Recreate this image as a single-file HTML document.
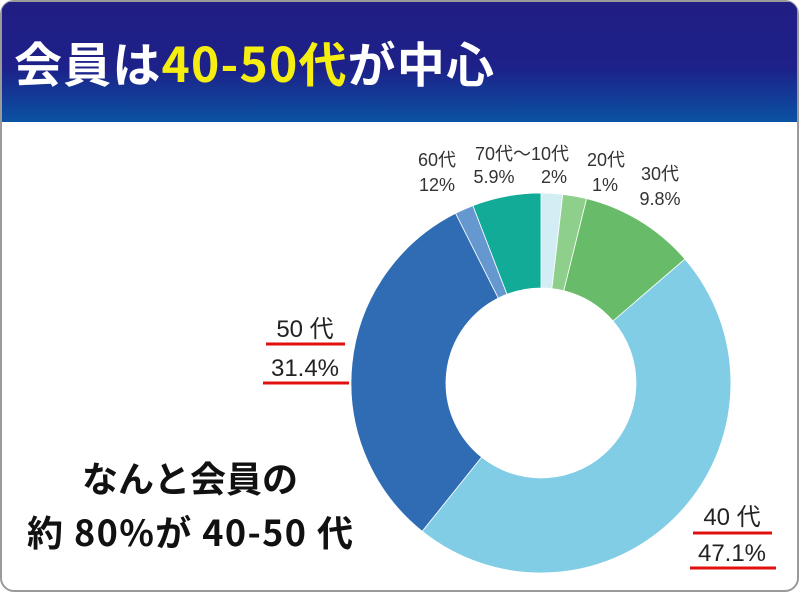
<!DOCTYPE html>
<html><head><meta charset="utf-8"><style>
body{margin:0;width:800px;height:594px;background:#fff;overflow:hidden}
</style></head><body>
<svg width="800" height="594" xmlns="http://www.w3.org/2000/svg" font-family="'Liberation Sans','Noto Sans CJK JP',sans-serif">
<defs><linearGradient id="g" x1="0" y1="0" x2="0" y2="1">
<stop offset="0" stop-color="#211e84"/><stop offset="0.55" stop-color="#1d2189"/><stop offset="1" stop-color="#0a52a2"/></linearGradient>
<clipPath id="c"><rect x="1" y="1" width="797" height="590" rx="13"/></clipPath></defs>
<rect x="1" y="1" width="797" height="590" rx="13" fill="#fff" stroke="#9a9a9a" stroke-width="2"/>
<rect x="2" y="2" width="795" height="120" fill="url(#g)" clip-path="url(#c)"/>
<text x="14" y="82" font-size="48" font-weight="bold" fill="#fff" font-family="'Noto Sans CJK JP',sans-serif" textLength="480" lengthAdjust="spacing">会員は<tspan fill="#f5ee10">40-50代</tspan>が中心</text>
<g stroke="#fff" stroke-width="0.8">
<path d="M541,193 A190,190 0 0 1 562.8,194.3 L551.9,288.6 A95,95 0 0 0 541,288 Z" fill="#d3edf5"/>
<path d="M562.8,194.3 A190,190 0 0 1 586.6,198.6 L563.8,290.8 A95,95 0 0 0 551.9,288.6 Z" fill="#8ecf8c"/>
<path d="M586.6,198.6 A190,190 0 0 1 685,259.1 L613,321 A95,95 0 0 0 563.8,290.8 Z" fill="#67bb69"/>
<path d="M685,259.1 A190,190 0 0 1 422.2,531.3 L481.6,457.1 A95,95 0 0 0 613,321 Z" fill="#80cde5"/>
<path d="M422.2,531.3 A190,190 0 0 1 455.6,213.3 L498.3,298.1 A95,95 0 0 0 481.6,457.1 Z" fill="#2f6cb4"/>
<path d="M455.6,213.3 A190,190 0 0 1 472.9,205.6 L507,294.3 A95,95 0 0 0 498.3,298.1 Z" fill="#6498cf"/>
<path d="M472.9,205.6 A190,190 0 0 1 541,193 L541,288 A95,95 0 0 0 507,294.3 Z" fill="#12ab98"/>
</g>
<g font-size="18" fill="#333" text-anchor="middle">
<text x="437" y="166">60代</text><text x="437" y="191">12%</text>
<text x="522" y="160">70代〜10代</text><text x="494" y="183">5.9%</text><text x="554" y="183">2%</text>
<text x="606" y="166">20代</text><text x="605" y="191">1%</text>
<text x="660" y="180">30代</text><text x="660" y="205">9.8%</text>
</g>
<g font-size="24" fill="#222" text-anchor="middle">
<text x="305" y="337">50 代</text><text x="305" y="376">31.4%</text>
<text x="732" y="525">40 代</text><text x="732" y="561">47.1%</text>
</g>
<g stroke="#e01010" stroke-width="3">
<line x1="266" y1="344" x2="345" y2="344"/><line x1="263" y1="383" x2="349" y2="383"/>
<line x1="693" y1="533" x2="772" y2="533"/><line x1="690" y1="568" x2="776" y2="568"/>
</g>
<g font-size="36" font-weight="bold" fill="#111" text-anchor="middle" font-family="'Noto Sans CJK JP',sans-serif">
<text x="190" y="492">なんと会員の</text><text x="190" y="546" textLength="326" lengthAdjust="spacing">約 80%が 40-50 代</text>
</g>
</svg>
</body></html>
